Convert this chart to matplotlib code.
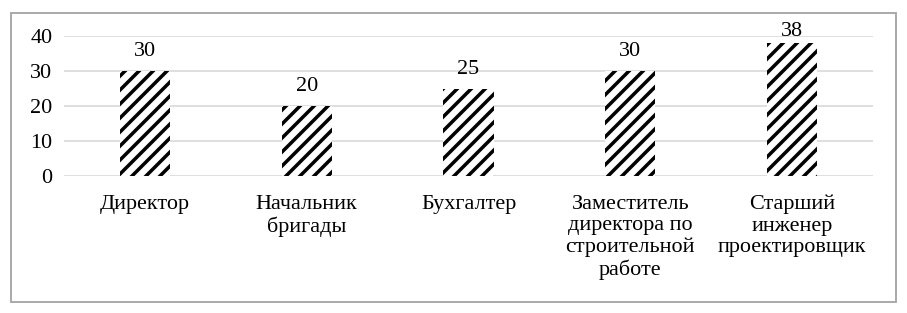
import matplotlib
matplotlib.use('Agg')
import matplotlib.pyplot as plt
from matplotlib.patches import Rectangle

categories = ['Директор', 'Начальник\nбригады', 'Бухгалтер',
              'Заместитель\nдиректора по\nстроительной\nработе',
              'Старший\nинженер\nпроектировщик']
values = [30, 20, 25, 30, 38]
yticks = [0, 10, 20, 30, 40]

# dpi 84 so that the hatch cell (one inch) gives ~14 px stripe spacing
DPI = 84
plt.rcParams['font.family'] = ['Liberation Serif', 'DejaVu Serif']
plt.rcParams['hatch.linewidth'] = 3.0

fig = plt.figure(figsize=(907 / DPI, 313 / DPI), dpi=DPI)
ax = fig.add_axes([64 / 907, 1 - 176 / 313, 809 / 907, 140 / 313])

x = list(range(len(categories)))
ax.bar(x, values, width=0.31, color='white', edgecolor='black',
       linewidth=0, hatch='//', zorder=2)
for xi, v in zip(x, values):
    ax.text(xi, min(v + 5.5, 41.2), str(v), ha='center', va='center',
            fontsize=19, clip_on=False)

ax.set_ylim(0, 40)
ax.set_xlim(-0.5, len(categories) - 0.5)
ax.set_yticks(yticks)
ax.set_xticks(x)
ax.set_xticklabels(categories, fontsize=19, linespacing=1.17)
ax.tick_params(axis='y', length=0, pad=10, labelsize=19)
ax.tick_params(axis='x', length=0, pad=16)
ax.grid(axis='y', color='#d9d9d9', linewidth=1.4, zorder=0)
for s in ax.spines.values():
    s.set_visible(False)

# outer frame around the chart
fig.patches.append(Rectangle((11 / 907, 1 - 302 / 313), 885 / 907, 289 / 313,
                             transform=fig.transFigure, fill=False,
                             edgecolor='#a6a6a6', linewidth=1.6))

fig.savefig('out.png', dpi=DPI)
